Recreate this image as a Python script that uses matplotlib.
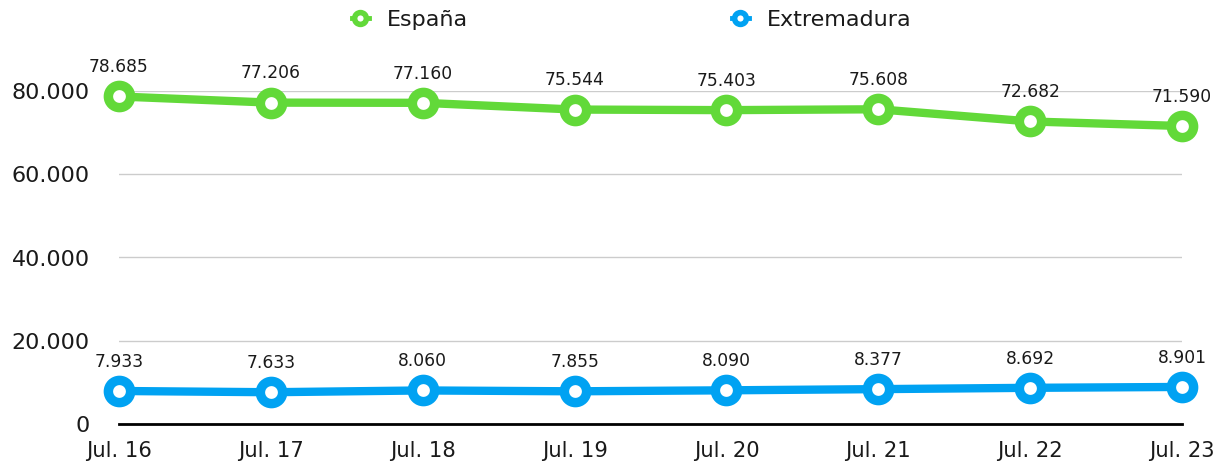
import matplotlib
matplotlib.use("Agg")
import matplotlib.pyplot as plt
from matplotlib.lines import Line2D

categories = ["Jul. 16", "Jul. 17", "Jul. 18", "Jul. 19", "Jul. 20", "Jul. 21", "Jul. 22", "Jul. 23"]
espana = [78685, 77206, 77160, 75544, 75403, 75608, 72682, 71590]
extremadura = [7933, 7633, 8060, 7855, 8090, 8377, 8692, 8901]
yticks = [0, 20000, 40000, 60000, 80000]
series_names = ["España", "Extremadura"]

green = "#62D939"
blue = "#00A2F2"
txt = "#1a1a1a"

plt.rcParams['font.family'] = ['DejaVu Sans']

def fmt(v):
    return f"{v:,}".replace(",", ".")

fig = plt.figure(figsize=(12.17, 4.61), dpi=100)
ax = fig.add_axes([119/1217, 1 - 424/461, (1182 - 119)/1217, (424 - 91)/461])
x = list(range(len(categories)))

for vals, col, name in [(espana, green, series_names[0]), (extremadura, blue, series_names[1])]:
    ax.plot(x, vals, color=col, lw=6, marker="o", ms=16, mew=6.8,
            mfc="white", mec=col, clip_on=False, zorder=3, label=name,
            solid_capstyle="round")
    for xi, v in zip(x, vals):
        ax.annotate(fmt(v), (xi, v), xytext=(0, 14.5), textcoords="offset points",
                    ha="center", va="bottom", fontsize=12.3, color=txt)

ax.set_xlim(0, 7)
ax.set_ylim(0, 80000)
ax.set_yticks(yticks)
ax.set_yticklabels([fmt(t) for t in yticks], fontsize=16, color=txt)
ax.set_xticks(x)
ax.set_xticklabels(categories, fontsize=15.2, color=txt)
ax.tick_params(axis="both", length=0)
ax.tick_params(axis="y", pad=21)
ax.tick_params(axis="x", pad=12)
ax.grid(axis="y", color="#cccccc", lw=1)
ax.set_axisbelow(True)
for s in ["top", "right", "left"]:
    ax.spines[s].set_visible(False)
ax.spines["bottom"].set_color("black")
ax.spines["bottom"].set_linewidth(2)
ax.spines["bottom"].set_zorder(2)

hs = [Line2D([0], [0], color=c, lw=3.5, marker="o", ms=8.5, mew=4, mfc="white", mec=c)
      for c in (green, blue)]
fig.legend(hs, series_names, loc="center", bbox_to_anchor=(0.519, 1 - 20/461), ncol=2,
           frameon=False, fontsize=16, columnspacing=11.9, handlelength=0.75,
           handletextpad=0.8, labelcolor=txt)

fig.savefig("out.png", dpi=100)
